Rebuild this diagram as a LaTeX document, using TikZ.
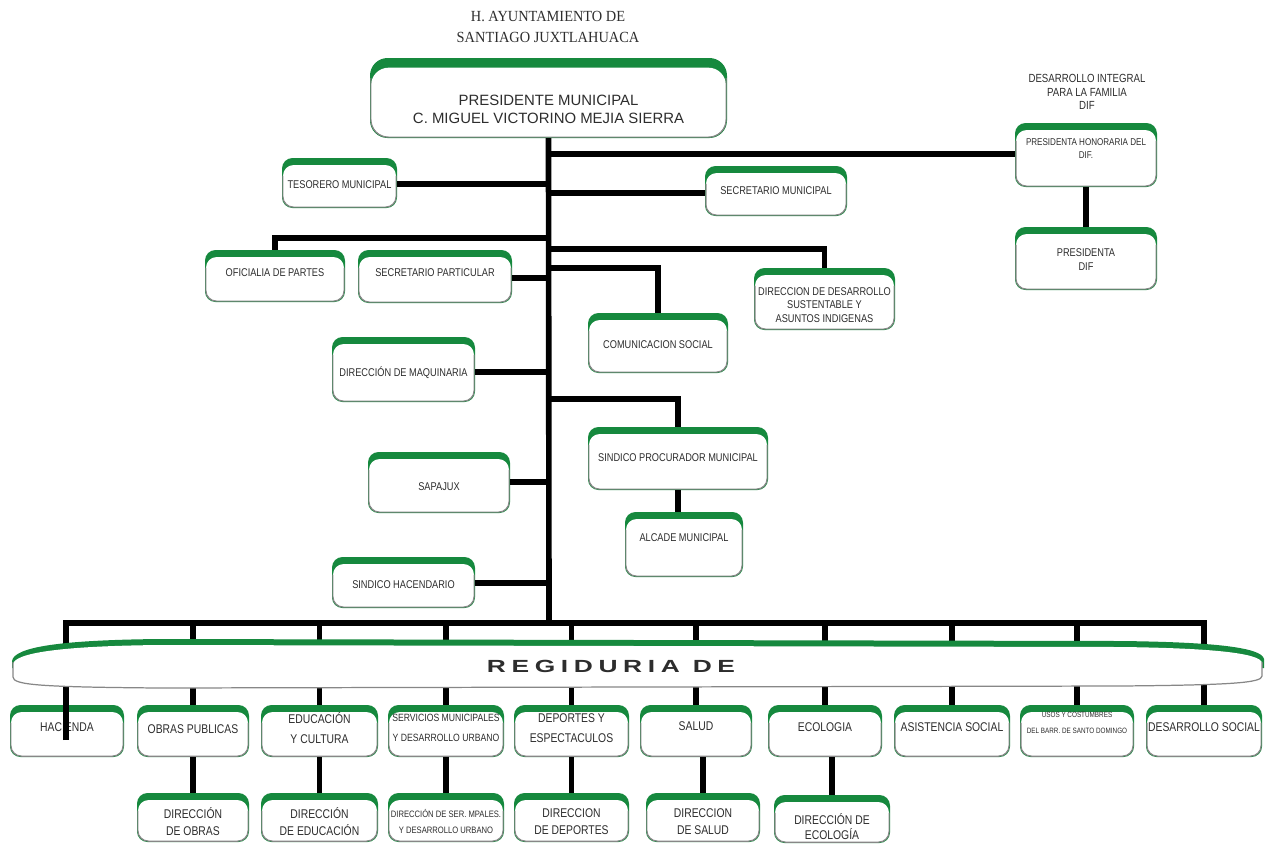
\documentclass[tikz,border=0pt]{standalone}
\usepackage{fontspec}
\setmainfont{Liberation Sans}
\newfontfamily\nfont[FakeStretch=0.82]{Liberation Sans}
\newfontfamily\wfont[FakeStretch=1.5,LetterSpace=32]{Liberation Sans Bold}
\newfontfamily\tfont[FakeStretch=0.93]{Liberation Serif}
\definecolor{capgreen}{RGB}{22,137,62}
\definecolor{boxgray}{RGB}{135,135,135}
\definecolor{txt}{RGB}{45,45,45}
\tikzset{
  gbox/.style 2 args={rectangle, rounded corners=#1, fill=capgreen, inner sep=0pt, outer sep=0pt,
    path picture={
      \fill[white, rounded corners=#1] ([xshift=0.6pt,yshift=-#2]path picture bounding box.north west) rectangle ([xshift=-0.6pt,yshift=0.6pt]path picture bounding box.south east);
      \draw[boxgray, line width=0.7pt, rounded corners=#1] ([xshift=0.5pt,yshift=-#2-6pt]path picture bounding box.north west) -- ([xshift=0.5pt,yshift=0.5pt]path picture bounding box.south west) -- ([xshift=-0.5pt,yshift=0.5pt]path picture bounding box.south east) -- ([xshift=-0.5pt,yshift=-#2-6pt]path picture bounding box.north east);
    }},
  mid/.style={font=\nfont\fontsize{6.4}{7.6}\selectfont, align=center, inner sep=0pt, text=txt},
  row1/.style={font=\nfont\fontsize{7.2}{11.3}\selectfont, align=center, inner sep=0pt, text=txt},
  row2/.style={font=\nfont\fontsize{7.2}{9.6}\selectfont, align=center, inner sep=0pt, text=txt},
  conn/.style={line width=3.2pt, black, line join=miter},
}
\newcommand\orgbox[8][mid]{%
  \node[gbox={6pt}{4pt}, minimum width={(#5-#3)*0.02cm}, minimum height={(#6-#4)*0.02cm}] (#2) at ({(#3+#5)/2},{(#4+#6)/2}) {};
  \node[#1] (#2t) at ({(#3+#5)/2},{(#4+#6)/2+(#7)}) {#8};
}
\begin{document}
\begin{tikzpicture}[x=0.02cm, y=-0.02cm]
\useasboundingbox (0,0) rectangle (1265,843);

% title
\node[font=\tfont\fontsize{8.8}{11.9}\selectfont, align=center, text=txt] (title) at (548,27) {H. AYUNTAMIENTO DE\\SANTIAGO JUXTLAHUACA};

% president
\node[gbox={10pt}{5.5pt}, minimum width={(727-370)*0.02cm}, minimum height={80*0.02cm}] (pres) at (548.5,98) {};
\node[font=\fontsize{8.5}{10.2}\selectfont, align=center, text=txt] (prest) at (548.5,109) {PRESIDENTE MUNICIPAL\\C. MIGUEL VICTORINO MEJIA SIERRA};

% DIF
\node[mid, font=\nfont\fontsize{6.7}{7.6}\selectfont] (difh) at (1087,92) {DESARROLLO INTEGRAL\\PARA LA FAMILIA\\DIF};
\orgbox[mid, font=\nfont\fontsize{5.6}{7.4}\selectfont]{phd}{1015}{123}{1157}{187}{-6}{PRESIDENTA HONORARIA DEL\\DIF.}
\orgbox{pdif}{1015}{227}{1157}{290}{1}{PRESIDENTA\\DIF}

% middle boxes
\orgbox{teso}{282}{158}{397}{208}{2}{TESORERO MUNICIPAL}
\orgbox{secm}{705}{166}{847}{216}{0}{SECRETARIO MUNICIPAL}
\orgbox{ofi}{205}{250}{345}{302}{-3}{OFICIALIA DE PARTES}
\orgbox{secp}{358}{250}{512}{303}{-4}{SECRETARIO PARTICULAR}
\orgbox{dds}{754}{268}{895}{330}{6}{DIRECCION DE DESARROLLO\\SUSTENTABLE Y\\ASUNTOS INDIGENAS}
\orgbox{com}{588}{313}{728}{373}{2}{COMUNICACION SOCIAL}
\orgbox{maq}{332}{337}{475}{402}{3}{DIRECCIÓN DE MAQUINARIA}
\orgbox{sp}{588}{427}{768}{490}{-1}{SINDICO PROCURADOR MUNICIPAL}
\orgbox{alc}{625}{512}{743}{577}{-7}{ALCADE MUNICIPAL}
\orgbox{sap}{368}{452}{510}{513}{4}{SAPAJUX}
\orgbox{sh}{332}{557}{475}{608}{2}{SINDICO HACENDARIO}

% row 1
\orgbox[row1]{hac}{10}{705}{124}{757}{-4}{HACIENDA}
\orgbox[row1]{obp}{137}{705}{249}{757}{-2}{OBRAS PUBLICAS}
\orgbox[row1]{edu}{261}{705}{378}{757}{-3}{EDUCACIÓN\\Y CULTURA}
\orgbox[row1, font=\nfont\fontsize{6}{11.3}\selectfont]{ser}{388}{705}{504}{757}{-3}{SERVICIOS MUNICIPALES\\Y DESARROLLO URBANO}
\orgbox[row1]{dep}{514}{705}{629}{757}{-3}{DEPORTES Y\\ESPECTACULOS}
\orgbox[row1]{sal}{640}{705}{752}{757}{-5}{SALUD}
\orgbox[row1]{eco}{768}{705}{882}{757}{-4}{ECOLOGIA}
\orgbox[row1]{asi}{894}{705}{1010}{757}{-4}{ASISTENCIA SOCIAL}
\orgbox[row1, font=\nfont\fontsize{4.4}{9}\selectfont]{uso}{1020}{705}{1134}{757}{-8}{USOS Y COSTUMBRES\\DEL BARR. DE SANTO DOMINGO}
\orgbox[row1]{dso}{1146}{705}{1262}{757}{-4}{DESARROLLO SOCIAL}

% row 2
\orgbox[row2]{dob}{137}{793}{249}{842}{4}{DIRECCIÓN\\DE OBRAS}
\orgbox[row2]{ded}{261}{793}{378}{842}{4}{DIRECCIÓN\\DE EDUCACIÓN}
\orgbox[row2, font=\nfont\fontsize{5.3}{9.6}\selectfont]{dsm}{388}{793}{504}{842}{4}{DIRECCIÓN DE SER. MPALES.\\Y DESARROLLO URBANO}
\orgbox[row2]{ddp}{514}{793}{629}{842}{4}{DIRECCION\\DE DEPORTES}
\orgbox[row2]{dsa}{646}{793}{760}{842}{4}{DIRECCION\\DE SALUD}
\orgbox[row2, font=\nfont\fontsize{7.2}{8.5}\selectfont]{dec}{774}{795}{890}{843}{8}{DIRECCIÓN DE\\ECOLOGÍA}

% trunk coordinates
\coordinate (bar) at (549,623);
\coordinate (j1) at (549,154);
\coordinate (j2) at (549,184);
\coordinate (j3) at (549,193);
\coordinate (j4) at (549,238);
\coordinate (j5) at (549,249);
\coordinate (j6) at (549,268);
\coordinate (j7) at (549,278);
\coordinate (j8) at (549,372);
\coordinate (j9) at (549,399);
\coordinate (j10) at (549,482);
\coordinate (j11) at (549,583);
\coordinate (hacend) at (66,740);

% connectors
\draw[conn] (pres.south) -- (bar);
\draw[conn] (j1) -- (j1 -| phd.west);
\draw[conn] (phd.south) -- (pdif.north);
\draw[conn] (j2) -- (j2 -| teso.east);
\draw[conn] (j3) -- (j3 -| secm.west);
\draw[conn] (j4) -| (ofi.north);
\draw[conn] (j5) -| (dds.north);
\draw[conn] (j6) -| (com.north);
\draw[conn] (j7) -- (j7 -| secp.east);
\draw[conn] (j8) -- (j8 -| maq.east);
\draw[conn] (j9) -| (sp.north);
\draw[conn] (sp.south) -- (sp.south |- alc.north);
\draw[conn] (j10) -- (j10 -| sap.east);
\draw[conn] (j11) -- (j11 -| sh.east);

\draw[conn] (hacend) -- (hacend |- bar) -- (dso.north |- bar) -- (dso.north);
\foreach \n in {obp,edu,ser,dep,sal,eco,asi,uso}{
  \draw[conn] (\n.north |- bar) -- (\n.north);
}
\draw[conn] (obp.south) -- (dob.north);
\draw[conn] (edu.south) -- (ded.north);
\draw[conn] (ser.south) -- (dsm.north);
\draw[conn] (dep.south) -- (ddp.north);
\draw[conn] (dsa.north |- sal.south) -- (dsa.north);
\draw[conn] (dec.north |- eco.south) -- (dec.north);

% regiduria banner
\fill[capgreen] (12,661) .. controls (14,647) and (60,640) .. (160,639) -- (1120,641) .. controls (1210,642) and (1262,647) .. (1264,659) -- (1264,668) -- (12,668) -- cycle;
\fill[white] (13,664) .. controls (15,653) and (60,646) .. (160,645) -- (1120,647) .. controls (1210,648) and (1261,653) .. (1262,663) -- (1262,676) .. controls (1262,683) and (1230,685) .. (1120,686) -- (160,688) .. controls (40,687) and (13,685) .. (13,677) -- cycle;
\draw[boxgray, line width=0.7pt] (13,662) -- (13,677) .. controls (13,685) and (40,687) .. (160,688) -- (1120,686) .. controls (1230,685) and (1262,683) .. (1262,676) -- (1262,662);
\node[font=\wfont\fontsize{10}{11}\selectfont, text=txt] (reg) at (611,666) {REGIDURIA DE};
\end{tikzpicture}
\end{document}
